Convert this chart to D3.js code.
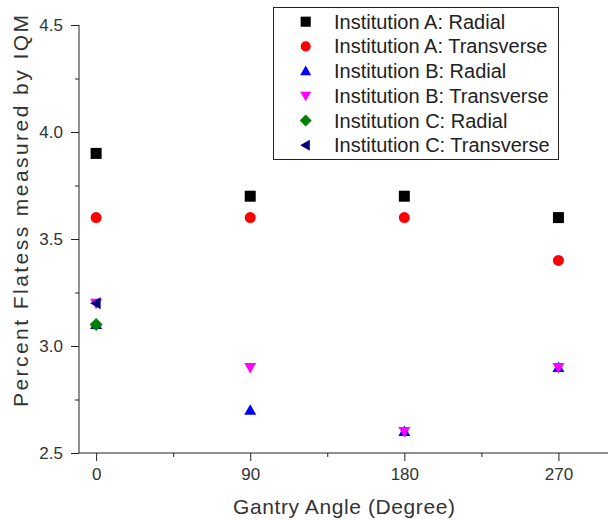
<!DOCTYPE html>
<html>
<head>
<meta charset="utf-8">
<script src="https://cdn.jsdelivr.net/npm/d3@7"></script>
<style>
  body { margin: 0; background: #fff; }
  svg { display: block; font-family: "Liberation Sans", Arial, sans-serif; }
</style>
</head>
<body>
<div id="chart"></div>
<script>
// gantry angles (degrees)
const angles = [0, 90, 180, 270];

// percent flatness per series
const aRadial = [3.9, 3.7, 3.7, 3.6];
const aTransverse = [3.6, 3.6, 3.6, 3.4];
const bRadial = [3.1, 2.7, 2.6, 2.9];
const bTransverse = [3.2, 2.9, 2.6, 2.9];
const cRadial = [3.1];
const cTransverse = [3.2];

const seriesNames = [
    "Institution A: Radial",
    "Institution A: Transverse",
    "Institution B: Radial",
    "Institution B: Transverse",
    "Institution C: Radial",
    "Institution C: Transverse"
];
const seriesValues = [aRadial, aTransverse, bRadial, bTransverse, cRadial, cTransverse];
const seriesColors = ["#000000", "#ff0000", "#0000ff", "#ff00ff", "#008000", "#000080"];
const seriesShapes = ["square", "circle", "up", "down", "diamond", "left"];

const yTicks = [2.5, 3.0, 3.5, 4.0, 4.5];
const xTicks = [0, 90, 180, 270];

// shape paths centred on 0,0
function shapePath(shape) {
    switch (shape) {
        case "square": return "M-5.5,-5.5H5.5V5.5H-5.5Z";
        case "circle": return d3.symbol(d3.symbolCircle, 95)();
        case "up": return "M0,-6L6,4.5H-6Z";
        case "down": return "M0,6L6,-4.5H-6Z";
        case "diamond": return "M0,-6.5L6.5,0L0,6.5L-6.5,0Z";
        case "left": return "M-6,0L4.5,-6V6Z";
    }
}

const W = 608, H = 520;
const svg = d3.select("#chart").append("svg")
    .attr("width", W)
    .attr("height", H);

// scales
const x = d3.scaleLinear().domain([-10, 300]).range([79, 609.8]);
const y = d3.scaleLinear().domain([2.5, 4.5]).range([453, 25]);

// minor ticks
svg.append("g")
    .attr("transform", "translate(79,0)")
    .call(d3.axisLeft(y).tickValues([2.75, 3.25, 3.75, 4.25]).tickSize(4).tickFormat(""))
    .call(g => g.select(".domain").remove());
svg.append("g")
    .attr("transform", "translate(0,453)")
    .call(d3.axisBottom(x).tickValues([45, 135, 225]).tickSize(4).tickFormat(""))
    .call(g => g.select(".domain").remove());

// Y axis
const yAxis = svg.append("g")
    .attr("transform", "translate(79,0)")
    .call(d3.axisLeft(y).tickValues(yTicks).tickSize(8).tickSizeOuter(0).tickPadding(8)
        .tickFormat(d3.format(".1f")));
yAxis.select(".domain").attr("d", "M0," + y(2.5) + "V" + y(4.5));
yAxis.selectAll("text").attr("font-size", 17).attr("fill", "#333");

// X axis
const xAxis = svg.append("g")
    .attr("transform", "translate(0,453)")
    .call(d3.axisBottom(x).tickValues(xTicks).tickSize(8).tickSizeOuter(0).tickPadding(7));
xAxis.select(".domain").attr("d", "M79,0H608");
xAxis.selectAll("text").attr("font-size", 17).attr("fill", "#333");

svg.selectAll(".tick line").attr("stroke", "#222");
svg.selectAll(".domain").attr("stroke", "#222");

// axis titles
svg.append("text")
    .attr("x", 344)
    .attr("y", 514)
    .attr("text-anchor", "middle")
    .attr("font-size", 21)
    .attr("fill", "#333")
    .attr("textLength", 222)
    .attr("lengthAdjust", "spacing")
    .text("Gantry Angle (Degree)");

svg.append("text")
    .attr("transform", "translate(28,211) rotate(-90)")
    .attr("text-anchor", "middle")
    .attr("font-size", 21)
    .attr("fill", "#333")
    .attr("textLength", 392)
    .attr("lengthAdjust", "spacing")
    .text("Percent Flatess measured by IQM");

// points
seriesValues.forEach(function(vals, i) {
    svg.append("g").selectAll("path")
        .data(vals)
        .enter()
        .append("path")
        .attr("d", shapePath(seriesShapes[i]))
        .attr("transform", (d, j) => "translate(" + x(angles[j]) + "," + y(d) + ")")
        .attr("fill", seriesColors[i]);
});

// legend
const legend = svg.append("g");
legend.append("rect")
    .attr("x", 273.5).attr("y", 7.5)
    .attr("width", 285).attr("height", 152)
    .attr("fill", "#fff")
    .attr("stroke", "#222");

const rows = legend.selectAll("g.row")
    .data(seriesNames)
    .enter()
    .append("g")
    .attr("class", "row")
    .attr("transform", (d, i) => "translate(0," + (21.7 + i * 24.7) + ")");
rows.append("path")
    .attr("d", (d, i) => shapePath(seriesShapes[i]))
    .attr("transform", "translate(305.7,0) scale(0.92)")
    .attr("fill", (d, i) => seriesColors[i]);
rows.append("text")
    .attr("x", 334)
    .attr("y", 7)
    .attr("font-size", 20)
    .attr("fill", "#222")
    .text(d => d);
</script>
</body>
</html>
